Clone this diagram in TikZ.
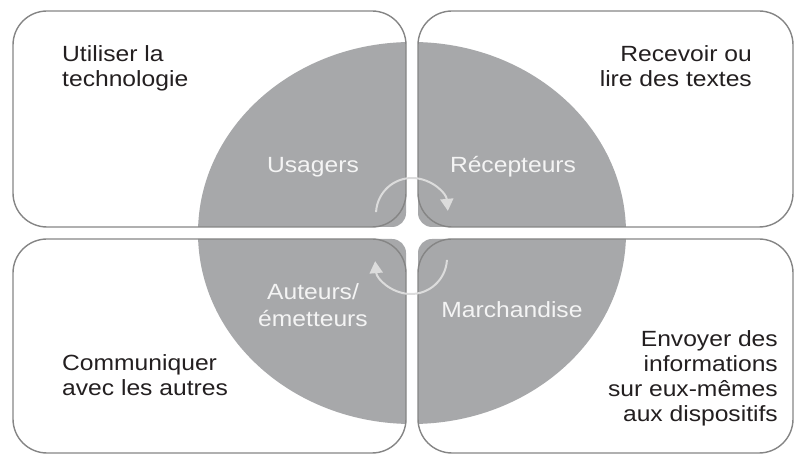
\documentclass[tikz,border=0pt]{standalone}
\usepackage{fontspec}
\setmainfont{Liberation Sans}[FakeStretch=1.12]
\usetikzlibrary{arrows.meta}
\definecolor{sectgray}{HTML}{A7A8AA}
\definecolor{boxline}{HTML}{858585}
\definecolor{txtdark}{HTML}{231F20}
\definecolor{labelwhite}{HTML}{F4F4F4}
\definecolor{arrowlight}{HTML}{DCDCDC}

\begin{document}
\begin{tikzpicture}[x=1pt,y=1pt,
		box/.style={draw=boxline,line width=1.4pt,rounded corners=34pt},
		quadtext/.style={inner sep=0pt,text=txtdark,font=\fontsize{22}{25}\selectfont},
		sectortext/.style={inner sep=0pt,text=labelwhite,font=\fontsize{22}{27}\selectfont,align=center},
		cyclearrow/.style={draw=arrowlight,line width=2pt,-{Triangle[width=13pt,length=12pt]}}]
		\def\cx{412}
		\def\cy{224}
		\def\gap{6}
		\useasboundingbox (0,0) rectangle (800,457);
		%Sectors
		\foreach \sx/\sy in {-1/1,1/1,-1/-1,1/-1}{
			\begin{scope}
				\clip[rounded corners=14pt] (\cx+\sx*\gap,\cy+\sy*\gap) rectangle (\cx+\sx*430,\cy+\sy*240);
				\fill[sectgray] (\cx,\cy) ellipse [x radius=214, y radius=191];
			\end{scope}
		}
		%Boxes
		\draw[box] (13,230) rectangle (406,446);
		\draw[box] (418,230) rectangle (793,446);
		\draw[box] (13,4) rectangle (406,218);
		\draw[box] (418,4) rectangle (793,218);
		%Cycle
		\coordinate (topc) at (\cx,243);
		\coordinate (botc) at (411,199);
		\draw[cyclearrow] (topc) ++(177:36) arc[start angle=177,end angle=5,radius=36];
		\draw[cyclearrow] (botc) ++(-3:36) arc[start angle=-3,end angle=-175,radius=36];
		%Sector labels
		\node[sectortext,anchor=base] (usagers) at (313,284) {Usagers};
		\node[sectortext,anchor=base] (recepteurs) at (513,284) {Récepteurs};
		\node[sectortext,anchor=north] (auteurs) at (313,174) {Auteurs/\\émetteurs};
		\node[sectortext,anchor=base] (marchandise) at (512,139) {Marchandise};
		%Descriptions
		\node[quadtext,anchor=north west,align=left] (usetech) at (62,412) {Utiliser la\\technologie};
		\node[quadtext,anchor=north east,align=right] (readtext) at (752,412) {Recevoir ou\\lire des textes};
		\node[quadtext,anchor=north west,align=left] (communicate) at (62,103) {Communiquer\\avec les autres};
		\node[quadtext,anchor=north east,align=right] (sendinfo) at (778,127) {Envoyer des\\informations\\sur eux-mêmes\\aux dispositifs};
\end{tikzpicture}
\end{document}
